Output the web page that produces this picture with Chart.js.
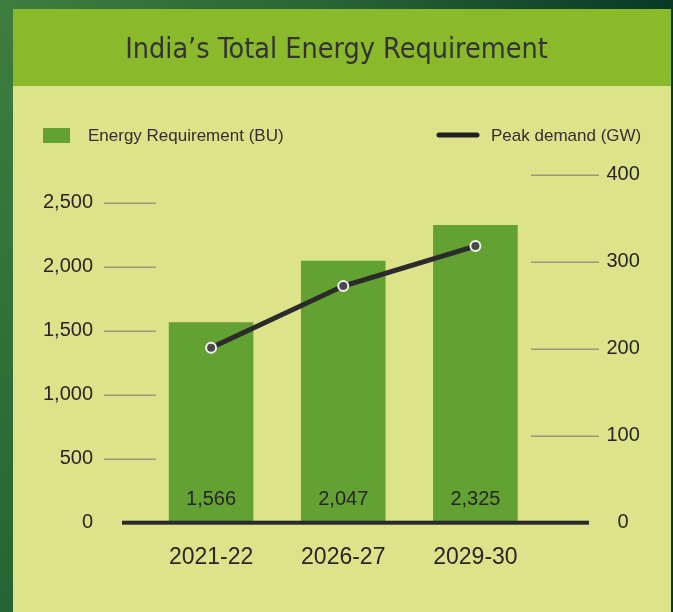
<!DOCTYPE html>
<html><head><meta charset="utf-8">
<script src="https://cdn.jsdelivr.net/npm/chart.js@4.4.1/dist/chart.umd.min.js"></script>
<style>html,body{margin:0;padding:0;overflow:hidden;background:#2f6e37}canvas{display:block}</style>
</head><body>
<canvas id="c" width="673" height="612"></canvas>
<script>
const chartTitle = "India\u2019s Total Energy Requirement";
const categories = ["2021-22", "2026-27", "2029-30"];
const energyRequirement = [1566, 2047, 2325];
const peakDemand = [201, 272, 318];
const energyTicks = [0, 500, 1000, 1500, 2000, 2500];
const demandTicks = [0, 100, 200, 300, 400];
const seriesNames = ["Energy Requirement (BU)", "Peak demand (GW)"];

const BAR = '#63a132', LINE = '#2b2b2b', TXT = '#262626';
const fmt = v => Number(v).toLocaleString('en-US');

const decor = {
  id: 'decor',
  beforeDraw(chart) {
    const ctx = chart.ctx, W = chart.width, H = chart.height;
    ctx.save();
    const g = ctx.createLinearGradient(0, 0, W, 120);
    g.addColorStop(0, '#3d7e3f'); g.addColorStop(0.45, '#2a6636'); g.addColorStop(1, '#083526');
    ctx.fillStyle = g; ctx.fillRect(0, 0, W, H);
    const g2 = ctx.createLinearGradient(0, 0, 0, H);
    g2.addColorStop(0, '#3d7e3f'); g2.addColorStop(1, '#276433');
    ctx.fillStyle = g2; ctx.fillRect(0, 9, 13, H);
    ctx.fillStyle = '#8ab92c'; ctx.fillRect(13, 9, 658, 77);
    ctx.fillStyle = '#dde38a'; ctx.fillRect(13, 86, 658, H - 86);
    ctx.restore();
  },
  beforeDatasetsDraw(chart) {
    const ctx = chart.ctx, a = chart.chartArea;
    const y = chart.scales.y, y1 = chart.scales.y1;
    ctx.save();
    ctx.strokeStyle = '#979a78'; ctx.lineWidth = 1.5;
    y.ticks.forEach(t => {
      if (t.value === 0) return;
      const p = Math.round(y.getPixelForValue(t.value)) + 0.25;
      ctx.beginPath(); ctx.moveTo(a.left - 41, p); ctx.lineTo(a.left + 11, p); ctx.stroke();
    });
    y1.ticks.forEach(t => {
      if (t.value === 0) return;
      const p = Math.round(y1.getPixelForValue(t.value)) + 0.25;
      ctx.beginPath(); ctx.moveTo(a.right - 10.5, p); ctx.lineTo(a.right + 57.5, p); ctx.stroke();
    });
    ctx.restore();
  },
  afterDatasetsDraw(chart) {
    const ctx = chart.ctx, a = chart.chartArea;
    const y = chart.scales.y;
    ctx.save();
    const b = y.getPixelForValue(0);
    ctx.fillStyle = '#2a2a2a';
    ctx.fillRect(a.left - 23, b - 2, (a.right + 47.5) - (a.left - 23), 4);
    const meta = chart.getDatasetMeta(1);
    ctx.font = '20px "Liberation Sans", Arial, sans-serif';
    ctx.fillStyle = TXT; ctx.textAlign = 'center'; ctx.textBaseline = 'middle';
    meta.data.forEach((el, i) => {
      ctx.fillText(fmt(chart.data.datasets[1].data[i]), el.x, b - 23.5);
    });
    ctx.font = '17px "Liberation Sans", Arial, sans-serif';
    ctx.textAlign = 'left';
    ctx.fillStyle = BAR; ctx.fillRect(43, 128, 27, 15);
    ctx.fillStyle = '#303030';
    ctx.fillText(chart.data.datasets[1].label, 88, 136);
    ctx.strokeStyle = '#1f1f1f'; ctx.lineWidth = 5; ctx.lineCap = 'round';
    ctx.beginPath(); ctx.moveTo(439, 135); ctx.lineTo(477, 135); ctx.stroke();
    ctx.fillText(chart.data.datasets[0].label, 491, 136);
    ctx.restore();
  }
};

new Chart(document.getElementById('c'), {
  data: {
    labels: categories,
    datasets: [
      {
        type: 'line', label: seriesNames[1], data: peakDemand, yAxisID: 'y1', order: 0,
        borderColor: LINE, borderWidth: 5, tension: 0,
        pointRadius: 5, pointBackgroundColor: '#4a4a4a', pointBorderColor: '#f2f2f2', pointBorderWidth: 2,
        pointStyle: 'circle'
      },
      {
        type: 'bar', label: seriesNames[0], data: energyRequirement, yAxisID: 'y', order: 1,
        backgroundColor: BAR, borderWidth: 0, categoryPercentage: 0.8, barPercentage: 0.8
      }
    ]
  },
  options: {
    responsive: false, animation: false, devicePixelRatio: 1,
    layout: { padding: { left: 0, right: 0, top: 0, bottom: 0 } },
    plugins: {
      legend: { display: false },
      tooltip: { enabled: false },
      title: {
        display: true, text: chartTitle, color: '#333333',
        font: { family: '"DejaVu Sans Condensed", "Liberation Sans", sans-serif', size: 28.5, weight: 'normal', lineHeight: 1.2 },
        padding: { top: 33, bottom: 107.5 }
      }
    },
    scales: {
      x: {
        offset: true,
        grid: { display: false, drawTicks: false }, border: { display: false },
        ticks: { color: TXT, font: { family: '"Liberation Sans", Arial, sans-serif', size: 23 }, padding: 21 },
        afterFit: s => { s.height = 89.3; }
      },
      y: {
        position: 'left', min: 0, max: 2718.75,
        grid: { display: false, drawTicks: false }, border: { display: false },
        afterBuildTicks: s => { s.ticks = energyTicks.map(v => ({ value: v })); },
        ticks: { color: TXT, font: { family: '"Liberation Sans", Arial, sans-serif', size: 20 }, padding: 52, callback: v => fmt(v) },
        afterFit: s => { s.width = 145; }
      },
      y1: {
        position: 'right', min: 0, max: 400,
        grid: { display: false, drawTicks: false }, border: { display: false },
        afterBuildTicks: s => { s.ticks = demandTicks.map(v => ({ value: v })); },
        ticks: { color: TXT, font: { family: '"Liberation Sans", Arial, sans-serif', size: 20 }, padding: 65, crossAlign: 'center', callback: v => fmt(v) },
        afterFit: s => { s.width = 131.5; }
      }
    }
  },
  plugins: [decor]
});
</script>
</body></html>
